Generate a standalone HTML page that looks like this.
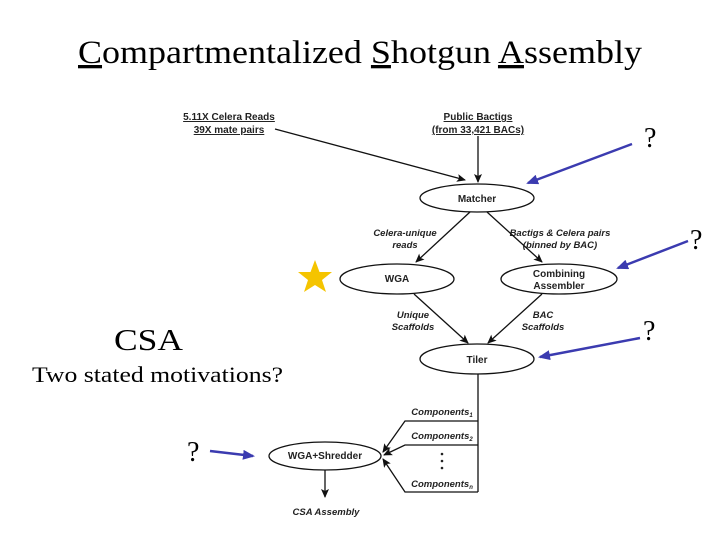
<!DOCTYPE html>
<html><head><style>
body{margin:0;width:720px;height:540px;background:#fff;overflow:hidden}
svg{position:absolute;left:0;top:0}
</style></head><body>
<svg width="720" height="540" viewBox="0 0 720 540">
<defs>
<marker id="a" markerWidth="9" markerHeight="8" refX="8" refY="4" orient="auto" markerUnits="userSpaceOnUse"><path d="M0,0 L9,4 L0,8 L2,4 Z" fill="#111"/></marker>
<marker id="b" markerWidth="12" markerHeight="10" refX="10" refY="5" orient="auto" markerUnits="userSpaceOnUse"><path d="M0,0 L12,5 L0,10 Z" fill="#3b3bb0"/></marker>
</defs>
<text x="78" y="63" font-family="Liberation Serif,serif" font-size="33" textLength="564" lengthAdjust="spacingAndGlyphs">
<tspan text-decoration="underline">C</tspan>ompartmentalized <tspan text-decoration="underline">S</tspan>hotgun <tspan text-decoration="underline">A</tspan>ssembly</text>
<g font-family="Liberation Sans,sans-serif" font-weight="bold" font-size="10" fill="#222" text-anchor="middle">
<text x="229" y="120" text-decoration="underline">5.11X Celera Reads</text>
<text x="229" y="133" text-decoration="underline">39X mate pairs</text>
<text x="478" y="120" text-decoration="underline">Public Bactigs</text>
<text x="478" y="133" text-decoration="underline">(from 33,421 BACs)</text>
<text x="477" y="202">Matcher</text>
<text x="397" y="282">WGA</text>
<text x="559" y="277">Combining</text>
<text x="559" y="289">Assembler</text>
<text x="477" y="363">Tiler</text>
<text x="325" y="459">WGA+Shredder</text>
<g font-style="italic" font-size="9.5">
<text x="405" y="236">Celera-unique</text>
<text x="405" y="248">reads</text>
<text x="560" y="236">Bactigs &amp; Celera pairs</text>
<text x="560" y="248">(binned by BAC)</text>
<text x="413" y="318">Unique</text>
<text x="413" y="330">Scaffolds</text>
<text x="543" y="318">BAC</text>
<text x="543" y="330">Scaffolds</text>
<text x="326" y="515">CSA Assembly</text>
<text x="442" y="415">Components<tspan font-size="6" dy="2">1</tspan></text>
<text x="442" y="439">Components<tspan font-size="6" dy="2">2</tspan></text>
<text x="442" y="487">Components<tspan font-size="6" dy="2">n</tspan></text>
</g></g>
<g fill="none" stroke="#111" stroke-width="1.3">
<ellipse cx="477" cy="198" rx="57" ry="14"/>
<ellipse cx="397" cy="279" rx="57" ry="15"/>
<ellipse cx="559" cy="279" rx="58" ry="15"/>
<ellipse cx="477" cy="359" rx="57" ry="15"/>
<ellipse cx="325" cy="456" rx="56" ry="14"/>
<line x1="275" y1="129" x2="465" y2="180" marker-end="url(#a)"/>
<line x1="478" y1="136" x2="478" y2="182" marker-end="url(#a)"/>
<line x1="470" y1="212" x2="416" y2="262" marker-end="url(#a)"/>
<line x1="487" y1="212" x2="542" y2="262" marker-end="url(#a)"/>
<line x1="414" y1="294" x2="468" y2="343" marker-end="url(#a)"/>
<line x1="542" y1="294" x2="488" y2="343" marker-end="url(#a)"/>
<line x1="478" y1="374" x2="478" y2="492"/>
<polyline points="478,421 405,421 383,452" marker-end="url(#a)"/>
<polyline points="478,445 405,445 384,455" marker-end="url(#a)"/>
<polyline points="478,492 405,492 383,459" marker-end="url(#a)"/>
<line x1="325" y1="470" x2="325" y2="497" marker-end="url(#a)"/>
</g>
<g fill="#222"><circle cx="442" cy="454" r="1.3"/><circle cx="442" cy="461" r="1.3"/><circle cx="442" cy="468" r="1.3"/></g>
<polygon points="315,260 319.5,272 332,272 322,280 326,292 315,285 304,292 308,280 298,272 310.5,272" fill="#f5c400"/>
<g stroke="#3b3bb0" stroke-width="2.5">
<line x1="632" y1="144" x2="528" y2="183" marker-end="url(#b)"/>
<line x1="688" y1="241" x2="618" y2="268" marker-end="url(#b)"/>
<line x1="640" y1="338" x2="540" y2="357" marker-end="url(#b)"/>
<line x1="210" y1="451" x2="253" y2="456" marker-end="url(#b)"/>
</g>
<g font-family="Liberation Serif,serif" font-size="28" fill="#000">
<text x="644" y="147">?</text>
<text x="690" y="249">?</text>
<text x="643" y="340">?</text>
<text x="187" y="461">?</text>
<text x="114" y="350" font-size="31" textLength="69" lengthAdjust="spacingAndGlyphs">CSA</text>
<text x="32" y="382" font-size="22" textLength="251" lengthAdjust="spacingAndGlyphs">Two stated motivations?</text>
</g>
</svg>
</body></html>
